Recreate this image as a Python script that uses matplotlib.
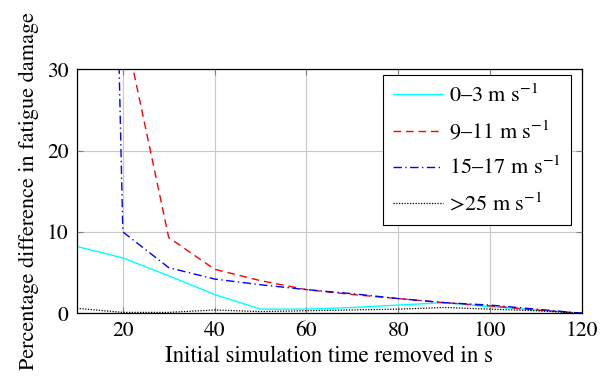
import matplotlib
matplotlib.use("Agg")
import matplotlib.pyplot as plt

plt.rcParams['font.family'] = ['STIXGeneral', 'DejaVu Serif']
plt.rcParams['mathtext.fontset'] = 'stix'

# Initial simulation time removed (s)
time_removed = [10, 20, 30, 40, 50, 60, 70, 80, 90, 100, 110, 120]

# Percentage difference in fatigue damage per wind-speed bin
diff_0_3 = [8.2, 6.8, 4.6, 2.3, 0.5, 0.5, 0.7, 1.0, 1.3, 0.8, 0.4, 0.0]
diff_9_11 = [80.0, 36.0, 9.3, 5.4, 4.0, 2.9, 2.3, 1.8, 1.3, 0.9, 0.4, 0.0]
diff_15_17 = [260.0, 10.0, 5.6, 4.2, 3.5, 2.9, 2.4, 1.8, 1.3, 1.0, 0.5, 0.0]
diff_25 = [0.6, 0.1, 0.1, 0.4, 0.2, 0.3, 0.4, 0.5, 0.7, 0.5, 0.3, 0.0]

labels = [r'0–3 m s$^{-1}$', r'9–11 m s$^{-1}$', r'15–17 m s$^{-1}$', r'>25 m s$^{-1}$']

fig = plt.figure(figsize=(6.01, 3.76), dpi=100)
ax = fig.add_axes([0.128, 0.167, 0.840, 0.649])

ax.plot(time_removed, diff_0_3, color='cyan', lw=1.0, ls='-', label=labels[0])
ax.plot(time_removed, diff_9_11, color='red', lw=1.0, ls=(0, (5.5, 3.5)), label=labels[1])
ax.plot(time_removed, diff_15_17, color='blue', lw=1.0, ls=(0, (6, 2.5, 1, 2.5)), label=labels[2])
ax.plot(time_removed, diff_25, color='black', lw=0.9, ls=(0, (1, 1.2)), label=labels[3])

ax.set_xlim(10, 120)
ax.set_ylim(0, 30)
ax.set_xticks([20, 40, 60, 80, 100, 120])
ax.set_yticks([0, 10, 20, 30])
ax.grid(True, color='#c8c8c8', lw=0.8)
ax.set_axisbelow(True)
ax.tick_params(direction='in', length=4, width=0.8, color='#808080',
               top=True, right=True, labelsize=15.5, pad=6)
for s in ax.spines.values():
    s.set_linewidth(0.9)
    s.set_color('black')

ax.set_xlabel('Initial simulation time removed in s', fontsize=16.5, labelpad=3)
ax.set_ylabel('Percentage difference in fatigue damage', fontsize=16, labelpad=6)

leg = ax.legend(loc='upper right', fontsize=16, frameon=True, fancybox=False,
                edgecolor='black', framealpha=1.0, handlelength=2.25,
                labelspacing=0.6, borderpad=0.42, handletextpad=0.3,
                borderaxespad=0.0, bbox_to_anchor=(0.978, 0.977))
leg.get_frame().set_linewidth(0.8)

fig.savefig('out.png', dpi=100)
